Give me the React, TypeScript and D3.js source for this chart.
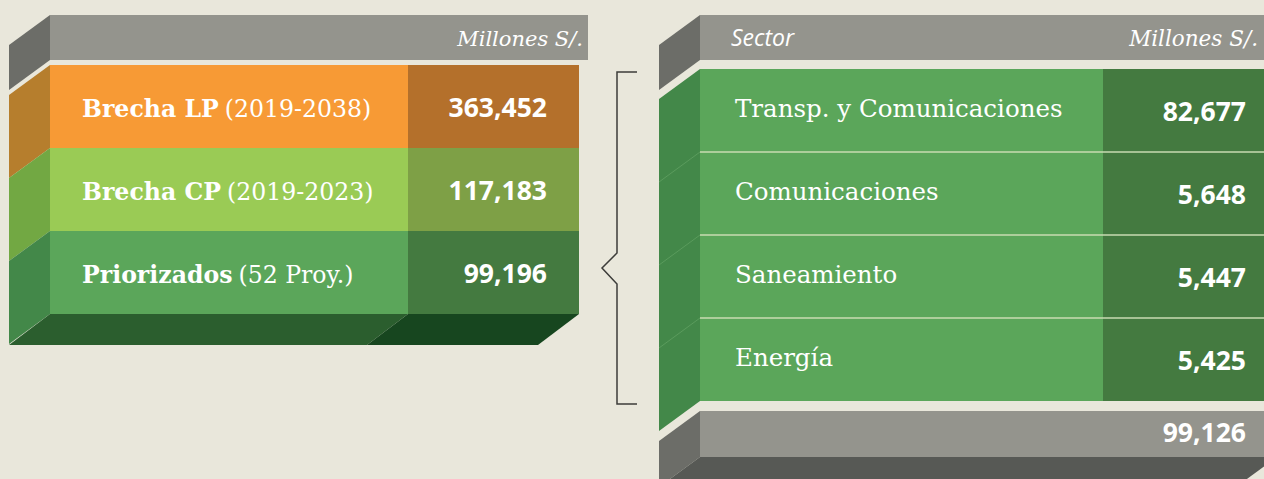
import React from "react";
import * as d3 from "d3";

// ---- data ----
const leftLabels = ["Brecha LP", "Brecha CP", "Priorizados"];
const leftSubs = ["(2019-2038)", "(2019-2023)", "(52 Proy.)"];
const leftValues = [363452, 117183, 99196];

const sectors = ["Transp. y Comunicaciones", "Comunicaciones", "Saneamiento", "Energía"];
const sectorValues = [82677, 5648, 5447, 5425];
const sectorTotal = 99126;

const headerUnit = "Millones S/.";
const headerSector = "Sector";

// ---- styles ----
const BG = "#e9e7db";
const GRAY_FRONT = "#94948d";
const GRAY_SIDE = "#6c6d68";
const GRAY_BOTTOM = "#575955";
const leftFront = ["#f79a35", "#9acb55", "#5ba65a"];
const leftSide = ["#b67e2d", "#72a843", "#438849"];
const leftDark = ["#b4702b", "#7ea046", "#447a40"];
const GREEN_FRONT = "#5ba65a";
const GREEN_SIDE = "#438849";
const GREEN_DARK = "#447a40";

const SERIF = "'DejaVu Serif', serif";
const SANS = "'Open Sans', 'Noto Sans', sans-serif";

const DX = 41;
const DY = 30;
const fmt = d3.format(",");

function side(x: number, y0: number, y1: number) {
  return `${x},${y0} ${x},${y1} ${x - DX},${y1 + DY} ${x - DX},${y0 + DY}`;
}

export default function App() {
  // left table
  const lx0 = 50, lx1 = 579, lvx = 408;
  const ly = d3.scaleBand<string>().domain(leftLabels).range([65, 314]).padding(0);
  // right table
  const rx0 = 700, rx1 = 1290, rvx = 1103;
  const ry = d3.scaleBand<string>().domain(sectors).range([69, 401]).padding(0);

  return (
    <svg width={1264} height={479} style={{ position: "absolute", left: 0, top: 0, display: "block" }}>
      <rect x={0} y={0} width={1264} height={479} fill={BG} />

      {/* ===== LEFT TABLE ===== */}
      <rect x={lx0} y={15} width={588 - lx0} height={45} fill={GRAY_FRONT} />
      <polygon points={side(lx0, 15, 60)} fill={GRAY_SIDE} />
      <text x={583} y={46} fill="#fff" fontFamily={SERIF} fontStyle="italic" fontSize={21} textAnchor="end">
        {headerUnit}
      </text>

      {leftLabels.map((d, i) => {
        const y0 = ly(d)!;
        const h = ly.bandwidth();
        const cy = y0 + h / 2;
        return (
          <g key={d}>
            <rect x={lx0} y={y0} width={lvx - lx0} height={h} fill={leftFront[i]} />
            <rect x={lvx} y={y0} width={lx1 - lvx} height={h} fill={leftDark[i]} />
            <polygon points={side(lx0, y0, y0 + h)} fill={leftSide[i]} />
            <text x={82} y={cy + 10} fill="#fff" fontFamily={SERIF} fontSize={23.6}>
              <tspan fontWeight="bold">{d}</tspan>
              <tspan dx={6}>{leftSubs[i]}</tspan>
            </text>
            <text x={547} y={cy + 10} fill="#fff" fontFamily={SANS} fontWeight="bold" fontSize={26.5} textAnchor="end">
              {fmt(leftValues[i])}
            </text>
          </g>
        );
      })}
      {/* bottom face */}
      <polygon points={`${lx0},314 ${lvx},314 ${lvx - DX},${314 + DY + 1} ${lx0 - DX},${314 + DY + 1}`} fill="#2b5e2e" />
      <polygon points={`${lvx},314 ${lx1},314 ${lx1 - DX},${314 + DY + 1} ${lvx - DX},${314 + DY + 1}`} fill="#17461f" />

      {/* ===== BRACKET ===== */}
      <path
        d="M637,72 L617,72 L617,253 L602,268 L617,284 L617,404 L637,404"
        fill="none"
        stroke="#3d3d3a"
        strokeWidth={1.5}
      />

      {/* ===== RIGHT TABLE ===== */}
      <rect x={rx0} y={15} width={rx1 - rx0} height={45} fill={GRAY_FRONT} />
      <polygon points={side(rx0, 15, 60)} fill={GRAY_SIDE} />
      <text x={731} y={46} fill="#fff" fontFamily={SANS} fontStyle="italic" fontSize={23}>
        {headerSector}
      </text>
      <text x={1258} y={46} fill="#fff" fontFamily={SERIF} fontStyle="italic" fontSize={21.5} textAnchor="end">
        {headerUnit}
      </text>

      <polygon points={side(rx0, 69, 401)} fill={GREEN_SIDE} />
      {sectors.map((d, i) => {
        const y0 = ry(d)!;
        const h = ry.bandwidth();
        const cy = y0 + h / 2;
        return (
          <g key={d}>
            <rect x={rx0} y={y0} width={rvx - rx0} height={h} fill={GREEN_FRONT} />
            <rect x={rvx} y={y0} width={rx1 - rvx} height={h} fill={GREEN_DARK} />
            {i > 0 && (
              <>
                <line x1={rx0} x2={rx1} y1={y0} y2={y0} stroke="#c9dbb2" strokeWidth={1.5} />
                <line x1={rx0} x2={rx0 - DX} y1={y0} y2={y0 + DY} stroke="#6aa86a" strokeWidth={0.6} />
              </>
            )}
            <text x={735} y={cy + 6} fill="#fff" fontFamily={SERIF} fontSize={24.5} fontWeight={300}>
              {d}
            </text>
            <text x={1246} y={cy + 10} fill="#fff" fontFamily={SANS} fontWeight="bold" fontSize={26.5} textAnchor="end">
              {fmt(sectorValues[i])}
            </text>
          </g>
        );
      })}

      {/* footer */}
      <rect x={rx0} y={411} width={rx1 - rx0} height={46} fill={GRAY_FRONT} />
      <polygon points={side(rx0, 411, 457)} fill={GRAY_SIDE} />
      <polygon points={`${rx0},457 1277,457 ${1277 - DX},${457 + DY} ${rx0 - DX},${457 + DY}`} fill={GRAY_BOTTOM} />
      <text x={1246} y={442} fill="#fff" fontFamily={SANS} fontWeight="bold" fontSize={26.5} textAnchor="end">
        {fmt(sectorTotal)}
      </text>
    </svg>
  );
}
